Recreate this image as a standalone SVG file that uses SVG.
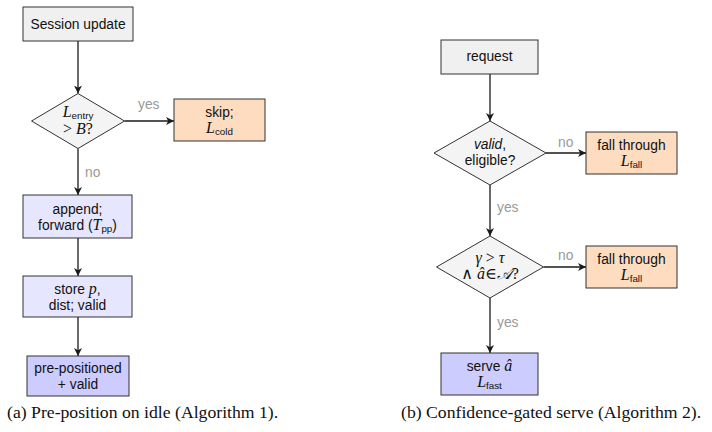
<svg xmlns="http://www.w3.org/2000/svg" width="712" height="432" viewBox="0 0 712 432">
<style>
.box{stroke:#333;stroke-width:1}
.gray{fill:#f0f0f0}
.dia{fill:#f4f4f4;stroke:#333;stroke-width:1}
.org{fill:#fddcc0}
.lav{fill:#e6e6ff}
.pur{fill:#ccccff}
.t{font-family:"Liberation Sans",Arial,sans-serif;font-size:13.8px;fill:#111;text-anchor:middle}
.m{font-family:"Liberation Serif","DejaVu Serif",serif;font-style:italic;font-size:16px}
.mu{font-family:"Liberation Serif","DejaVu Serif",serif;font-style:normal;font-size:16px}
.sub{font-size:9.8px}
.lbl{font-family:"Liberation Sans",Arial,sans-serif;font-size:13.8px;fill:#999}
.cap{font-family:"Liberation Serif","Times New Roman",serif;font-size:17.7px;fill:#111}
.edge{stroke:#1a1a1a;stroke-width:1.3;fill:none;marker-end:url(#ah)}
</style>
<defs>
<marker id="ah" markerWidth="10" markerHeight="10" refX="8" refY="4" orient="auto" markerUnits="userSpaceOnUse">
<path d="M0,0 L8,4 L0,8 L2.2,4 Z" fill="#1a1a1a"/>
</marker>
</defs>

<g id="connectors">
<line class="edge" x1="78" y1="41" x2="78" y2="93.5"/>
<line class="edge" x1="124.5" y1="121" x2="174" y2="121"/>
<line class="edge" x1="78" y1="148.5" x2="78" y2="195"/>
<line class="edge" x1="78" y1="238" x2="78" y2="276"/>
<line class="edge" x1="78" y1="317" x2="78" y2="356"/>
<line class="edge" x1="490" y1="74" x2="490" y2="121"/>
<line class="edge" x1="546" y1="153" x2="586" y2="153"/>
<line class="edge" x1="490" y1="185" x2="490" y2="236"/>
<line class="edge" x1="543.5" y1="267" x2="586" y2="267"/>
<line class="edge" x1="490" y1="298" x2="490" y2="353"/>
<text class="lbl" x="138" y="109">yes</text>
<text class="lbl" x="85" y="177">no</text>
<text class="lbl" x="558" y="147">no</text>
<text class="lbl" x="497" y="212">yes</text>
<text class="lbl" x="558" y="260">no</text>
<text class="lbl" x="497" y="327">yes</text>
</g>

<g id="session">
<rect class="box gray" x="23" y="7" width="110" height="34"/>
<text class="t" x="78" y="28.5">Session update</text>
</g>
<g id="entry-check">
<polygon class="dia" points="78,93.5 124.5,121 78,148.5 31.5,121"/>
<text class="t" x="78" y="117"><tspan class="m">L</tspan><tspan class="sub" dy="2">entry</tspan></text>
<text class="t" x="78" y="134"><tspan class="mu">&gt; </tspan><tspan class="m">B</tspan><tspan class="mu">?</tspan></text>
</g>
<g id="skip">
<rect class="box org" x="174" y="99" width="91" height="42"/>
<text class="t" x="219.5" y="117">skip;</text>
<text class="t" x="219.5" y="133"><tspan class="m">L</tspan><tspan class="sub" dy="2">cold</tspan></text>
</g>
<g id="append">
<rect class="box lav" x="23" y="195" width="109" height="43"/>
<text class="t" x="77.5" y="213.5">append;</text>
<text class="t" x="77.5" y="229.5">forward (<tspan class="m">T</tspan><tspan class="sub" dy="2">pp</tspan><tspan dy="-2">)</tspan></text>
</g>
<g id="store">
<rect class="box lav" x="23" y="276" width="109" height="41"/>
<text class="t" x="77.5" y="293.5">store <tspan class="m">p</tspan>,</text>
<text class="t" x="77.5" y="309.5">dist; valid</text>
</g>
<g id="prepositioned">
<rect class="box pur" x="27" y="356" width="102" height="40"/>
<text class="t" x="78" y="373">pre-positioned</text>
<text class="t" x="78" y="389">+ valid</text>
</g>

<g id="request">
<rect class="box gray" x="441" y="40" width="97" height="34"/>
<text class="t" x="489.5" y="61">request</text>
</g>
<g id="valid-check">
<polygon class="dia" points="490,121 546,153 490,185 434,153"/>
<text class="t" x="490" y="149"><tspan font-style="italic">valid</tspan>,</text>
<text class="t" x="490" y="165">eligible?</text>
</g>
<g id="fall1">
<rect class="box org" x="586" y="132" width="91" height="42"/>
<text class="t" x="631.5" y="150">fall through</text>
<text class="t" x="631.5" y="166"><tspan class="m">L</tspan><tspan class="sub" dy="2">fall</tspan></text>
</g>
<g id="conf-check">
<polygon class="dia" points="490,236 543.5,267 490,298 436.5,267"/>
<text class="t" x="490" y="263"><tspan class="m">γ</tspan><tspan class="mu"> &gt; </tspan><tspan class="m">τ</tspan></text>
<text class="t" x="490" y="279"><tspan class="mu">∧ </tspan><tspan class="m">â</tspan><tspan class="mu">∈</tspan><tspan class="m">𝒜</tspan><tspan class="mu">?</tspan></text>
</g>
<g id="fall2">
<rect class="box org" x="586" y="246" width="91" height="42"/>
<text class="t" x="631.5" y="264">fall through</text>
<text class="t" x="631.5" y="280"><tspan class="m">L</tspan><tspan class="sub" dy="2">fall</tspan></text>
</g>
<g id="serve">
<rect class="box pur" x="441" y="353" width="97" height="42"/>
<text class="t" x="489.5" y="371">serve <tspan class="m">â</tspan></text>
<text class="t" x="489.5" y="387"><tspan class="m">L</tspan><tspan class="sub" dy="2">fast</tspan></text>
</g>

<text class="cap" x="7" y="418">(a) Pre-position on idle (Algorithm 1).</text>
<text class="cap" x="401" y="418">(b) Confidence-gated serve (Algorithm 2).</text>
</svg>
